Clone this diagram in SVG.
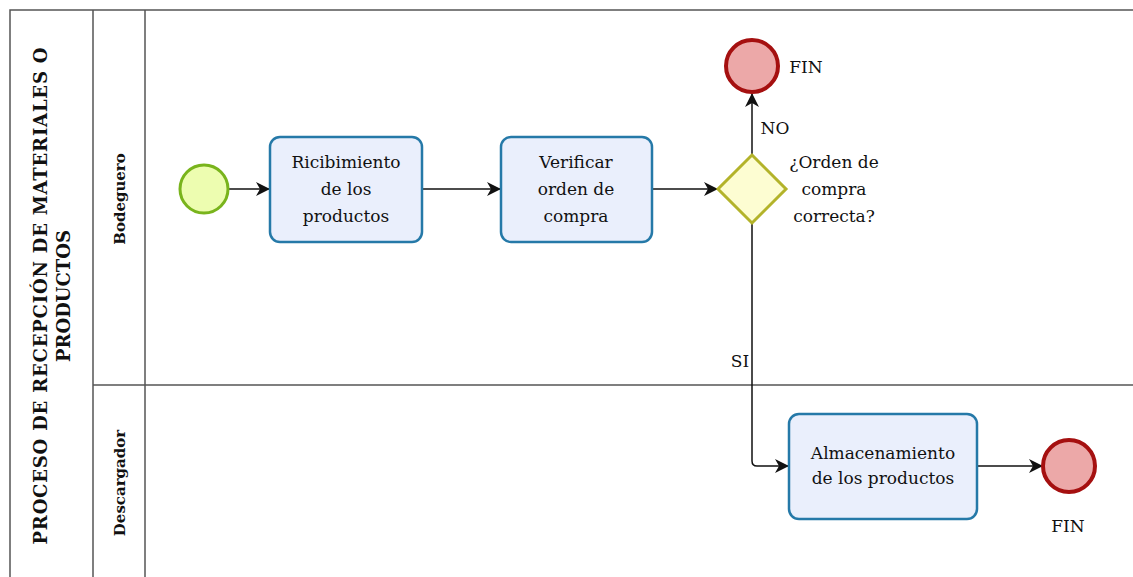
<svg xmlns="http://www.w3.org/2000/svg" width="1133" height="577" viewBox="0 0 1133 577">
<defs>
<style>
.lane{stroke:#555;stroke-width:1.5;fill:none}
.task rect{fill:#eaeffc;stroke:#2579a8;stroke-width:2.5}
.t{font-family:"DejaVu Serif","Liberation Serif",serif;font-size:17px;fill:#111;text-anchor:middle}
.hdr{font-family:"DejaVu Serif","Liberation Serif",serif;font-weight:bold;fill:#111;text-anchor:middle}
.end circle{fill:#eca8a8;stroke:#a51010;stroke-width:4}
.conn path{stroke:#111;stroke-width:1.5;fill:none}
</style>
<marker id="arr" markerWidth="14" markerHeight="14" refX="13" refY="7" orient="auto" markerUnits="userSpaceOnUse">
<path d="M0,0 L14,7 L0,14 L4,7 Z" fill="#111"/>
</marker>
</defs>
<rect width="1133" height="577" fill="#fff"/>
<g id="pool">
<path class="lane" d="M1133,10 H10 V577 M93,10 V577 M145,10 V577 M93,385 H1133"/>
<text class="hdr" font-size="18" transform="translate(47,296) rotate(-90)" textLength="497" lengthAdjust="spacing">PROCESO DE RECEPCIÓN DE MATERIALES O</text>
<text class="hdr" font-size="18" transform="translate(70,296) rotate(-90)">PRODUCTOS</text>
</g>
<g id="lane-bodeguero"><text class="hdr" font-size="15" transform="translate(125,199) rotate(-90)">Bodeguero</text></g>
<g id="lane-descargador"><text class="hdr" font-size="15" transform="translate(125,483) rotate(-90)">Descargador</text></g>
<g class="conn" id="connectors">
<path d="M229,189 H269" marker-end="url(#arr)"/>
<path d="M422,189 H500" marker-end="url(#arr)"/>
<path d="M652,189 H717" marker-end="url(#arr)"/>
<path d="M752,155 V94" marker-end="url(#arr)"/>
<path d="M752,223 V461 Q752,466 757,466 H788" marker-end="url(#arr)"/>
<path d="M977,466 H1042" marker-end="url(#arr)"/>
<text class="t" x="775" y="134">NO</text>
<text class="t" x="740" y="367">SI</text>
</g>
<g id="start"><circle cx="204" cy="189" r="24" fill="#edfdb0" stroke="#79b41c" stroke-width="3"/></g>
<g id="task1" class="task"><rect x="270" y="137" width="152" height="105" rx="10"/>
<text class="t" x="346" y="168">Ricibimiento</text><text class="t" x="346" y="195">de los</text><text class="t" x="346" y="222">productos</text></g>
<g id="task2" class="task"><rect x="501" y="137" width="151" height="105" rx="10"/>
<text class="t" x="576" y="168">Verificar</text><text class="t" x="576" y="195">orden de</text><text class="t" x="576" y="222">compra</text></g>
<g id="gateway"><path d="M752,155 L786,189 L752,223 L718,189 Z" fill="#fdfdd2" stroke="#b3b32a" stroke-width="3"/>
<text class="t" x="834" y="168">¿Orden de</text><text class="t" x="834" y="195">compra</text><text class="t" x="834" y="222">correcta?</text></g>
<g id="end1" class="end"><circle cx="752" cy="66" r="26"/><text class="t" x="806" y="73">FIN</text></g>
<g id="task3" class="task"><rect x="789" y="414" width="188" height="105" rx="10"/>
<text class="t" x="883" y="459">Almacenamiento</text><text class="t" x="883" y="484">de los productos</text></g>
<g id="end2" class="end"><circle cx="1069" cy="466" r="26"/><text class="t" x="1068" y="532">FIN</text></g>
</svg>
